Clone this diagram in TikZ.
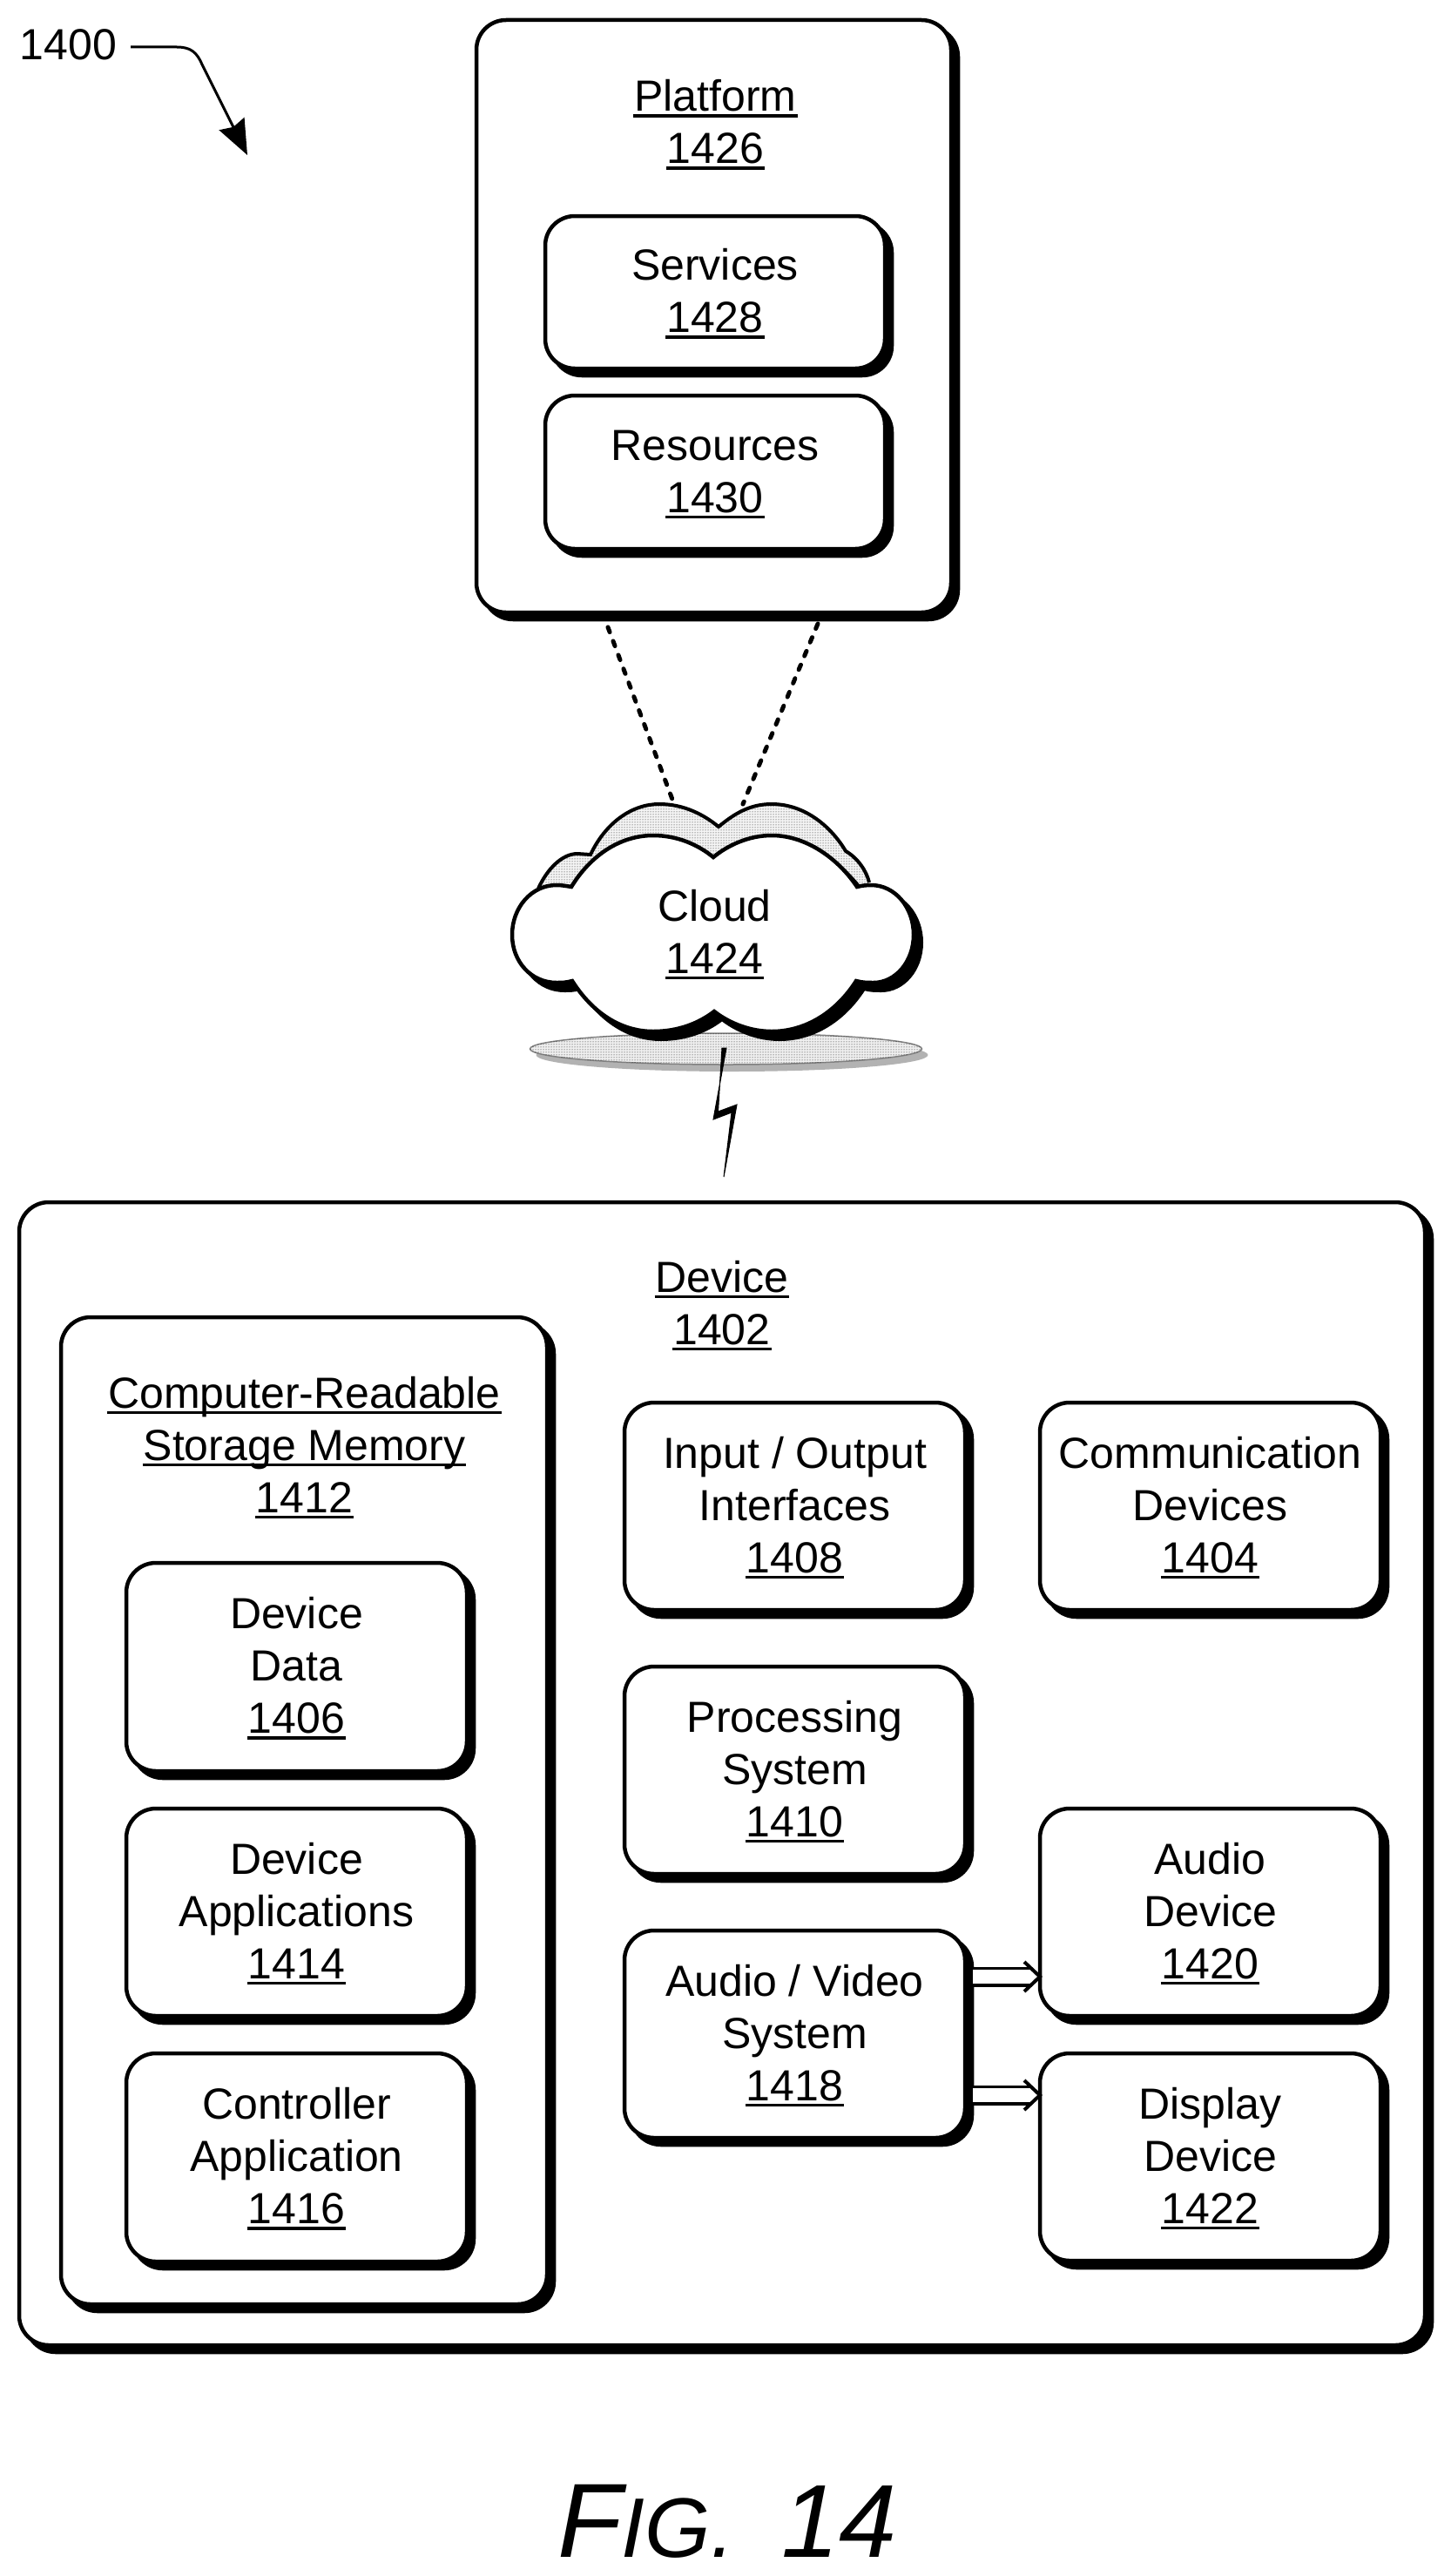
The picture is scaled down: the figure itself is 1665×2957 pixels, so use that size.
\documentclass[tikz,border=0pt]{standalone}
\usepackage{fontspec}
\setmainfont{Liberation Sans}
\usetikzlibrary{arrows.meta,shadows,patterns}
\newsavebox\unbox
\newcommand\tl{\rule{0pt}{42pt}}
\newcommand\bl{\rule[-10pt]{0pt}{10pt}}
\newcommand\un[1]{\sbox\unbox{#1}\rlap{\kern-1pt\rule[-7pt]{\dimexpr\wd\unbox+2pt\relax}{3.5pt}}\usebox\unbox\bl}
\newcommand\cloudpath{(656,1018) .. controls (678,982) and (712,959) .. (750,959) .. controls (778,959) and (802,970) .. (819,984) .. controls (836,970) and (860,959) .. (886,959) .. controls (925,959) and (962,985) .. (984,1018) .. controls (990,1016.5) and (995,1016) .. (1000,1016) .. controls (1028,1016) and (1049,1042) .. (1049,1073) .. controls (1049,1104) and (1028,1128) .. (1003,1128) .. controls (996,1128) and (990,1128) .. (983,1126) .. controls (960,1162) and (925,1184) .. (886,1184) .. controls (862,1184) and (838,1175) .. (820,1161) .. controls (802,1175) and (778,1184) .. (750,1184) .. controls (712,1184) and (680,1162) .. (657,1126) .. controls (650,1128) and (645,1128) .. (639,1128) .. controls (610,1128) and (588,1104) .. (588,1073) .. controls (588,1042) and (610,1016) .. (639,1016) .. controls (645,1016) and (650,1017) .. (656,1018) -- cycle}
\newcommand\backcloud{(618,1020) .. controls (628,998) and (645,980) .. (663,980) -- (678,981) .. controls (695,945) and (725,923) .. (757,923) .. controls (785,923) and (808,935) .. (825,949) .. controls (842,935) and (860,923) .. (886,923) .. controls (925,923) and (955,950) .. (971,977) .. controls (985,985) and (995,1000) .. (998,1013)}
\tikzset{
  every node/.style={inner sep=0pt, outer sep=0pt},
  txt/.style={font=\fontsize{50}{60}\selectfont, align=center},
  rbox/.style={txt, draw=black, fill=white, line width=4.5pt, rounded corners=34pt,
    copy shadow={shadow xshift=8pt, shadow yshift=-8pt, fill=black, draw=black}},
  dotline/.style={line width=5pt, line cap=round, dash pattern=on 6pt off 11pt},
  dbl/.style={double, double distance=16pt, line width=3.5pt, shorten >=10pt},
  chev/.style={line width=4pt, line join=miter}
}
\begin{document}
\begin{tikzpicture}[x=1pt,y=-1pt]
\useasboundingbox (0,0) rectangle (1665,2957);

% reference label
\node[txt, anchor=base west] (ref) at (23,69) {1400};
\coordinate (reftip) at (284,178);
\draw[line width=3pt, -{Stealth[length=40pt,width=32pt,inset=4pt]}]
  ([xshift=16pt,yshift=-2pt]ref.east) -- (203,54) .. controls (219,54) and (226,60) .. (232,74) -- (reftip);

% platform
\node[rbox, minimum width=545pt, minimum height=680pt] (platform) at (819.5,363) {};
\node[txt, anchor=north] (platformlabel) at (821.5,86) {\tl\un{Platform}\\\un{1426}};
\node[rbox, minimum width=390pt, minimum height=175pt] (services) at (821,335.5) {\tl Services\\\un{1428}};
\node[rbox, minimum width=390pt, minimum height=176pt] (resources) at (821,542) {\tl Resources\\\un{1430}};

% cloud
\coordinate (pl1) at (698,720);
\coordinate (pl2) at (939,716);
\coordinate (cl1) at (774,923);
\coordinate (cl2) at (853,923);
\draw[dotline] (pl1) -- (cl1);
\draw[dotline] (pl2) -- (cl2);

\fill[gray!60] (840.5,1211) ellipse [x radius=225pt, y radius=19pt];
\draw[fill=gray!12, draw=gray, line width=1.5pt] (833.5,1204) ellipse [x radius=225pt, y radius=18pt];
\fill[pattern=dots, pattern color=black] (833.5,1204) ellipse [x radius=225pt, y radius=18pt];

\path[fill=gray!8] \backcloud -- (900,1060) -- (700,1060) -- cycle;
\path[pattern=dots, pattern color=black] \backcloud -- (900,1060) -- (700,1060) -- cycle;
\draw[line width=4pt] \backcloud;
\draw[line width=4pt, line join=miter, fill=black, shift={(9,9)}] \cloudpath;
\draw[line width=4.5pt, line join=miter, fill=white] \cloudpath;
\node[txt, anchor=north] (cloud) at (820.5,1015) {\tl Cloud\\\un{1424}};

% lightning
\filldraw[line width=1pt] (829,1203) -- (834,1203) -- (819,1285) -- (840,1277) -- (831,1351) -- (846,1268) -- (824.5,1276) -- cycle;

% device
\node[rbox, minimum width=1614pt, minimum height=1312pt] (device) at (829,2036) {};
\node[txt, anchor=north] (devicelabel) at (829,1441) {\tl\un{Device}\\\un{1402}};

\node[rbox, minimum width=558pt, minimum height=1133pt] (crsm) at (349,2078.5) {};
\node[txt, anchor=north] (crsmlabel) at (349.5,1574) {\tl\un{Computer-Readable}\\\un{Storage Memory}\\\un{1412}};

\node[rbox, minimum width=391pt, minimum height=239pt] (data) at (340.5,1913.5) {\tl Device\\Data\\\un{1406}};
\node[rbox, minimum width=391pt, minimum height=238pt] (apps) at (340.5,2195) {\tl Device\\Applications\\\un{1414}};
\node[rbox, minimum width=391pt, minimum height=239pt] (ctrl) at (340.5,2476.5) {\tl Controller\\Application\\\un{1416}};

\node[rbox, minimum width=391pt, minimum height=238pt] (io) at (912.5,1729) {\tl Input / Output\\Interfaces\\\un{1408}};
\node[rbox, minimum width=391pt, minimum height=238pt] (comm) at (1389.5,1729) {\tl Communication\\Devices\\\un{1404}};
\node[rbox, minimum width=391pt, minimum height=238pt] (proc) at (912.5,2032) {\tl Processing\\System\\\un{1410}};
\node[rbox, minimum width=391pt, minimum height=238pt] (av) at (912.5,2335) {\tl Audio / Video\\System\\\un{1418}};
\node[rbox, minimum width=391pt, minimum height=238pt] (audio) at (1389.5,2195) {\tl Audio\\Device\\\un{1420}};
\node[rbox, minimum width=391pt, minimum height=238pt] (display) at (1389.5,2476) {\tl Display\\Device\\\un{1422}};

\coordinate (a1) at (1117,2269);
\coordinate (a2) at (1117,2405);
\coordinate (t1) at (audio.west |- a1);
\coordinate (t2) at (display.west |- a2);
\draw[dbl] (a1) -- (t1);
\draw[dbl] (a2) -- (t2);
\draw[chev] ([xshift=-18pt,yshift=17pt]t1) -- (t1) -- ([xshift=-18pt,yshift=-17pt]t1);
\draw[chev] ([xshift=-18pt,yshift=17pt]t2) -- (t2) -- ([xshift=-18pt,yshift=-17pt]t2);

% caption
\node[anchor=base west] (fig) at (640,2935) {\itshape\fontsize{121}{121}\selectfont F\fontsize{97}{97}\selectfont IG.\hspace{54pt}\fontsize{119}{119}\selectfont 14};
\end{tikzpicture}
\end{document}
